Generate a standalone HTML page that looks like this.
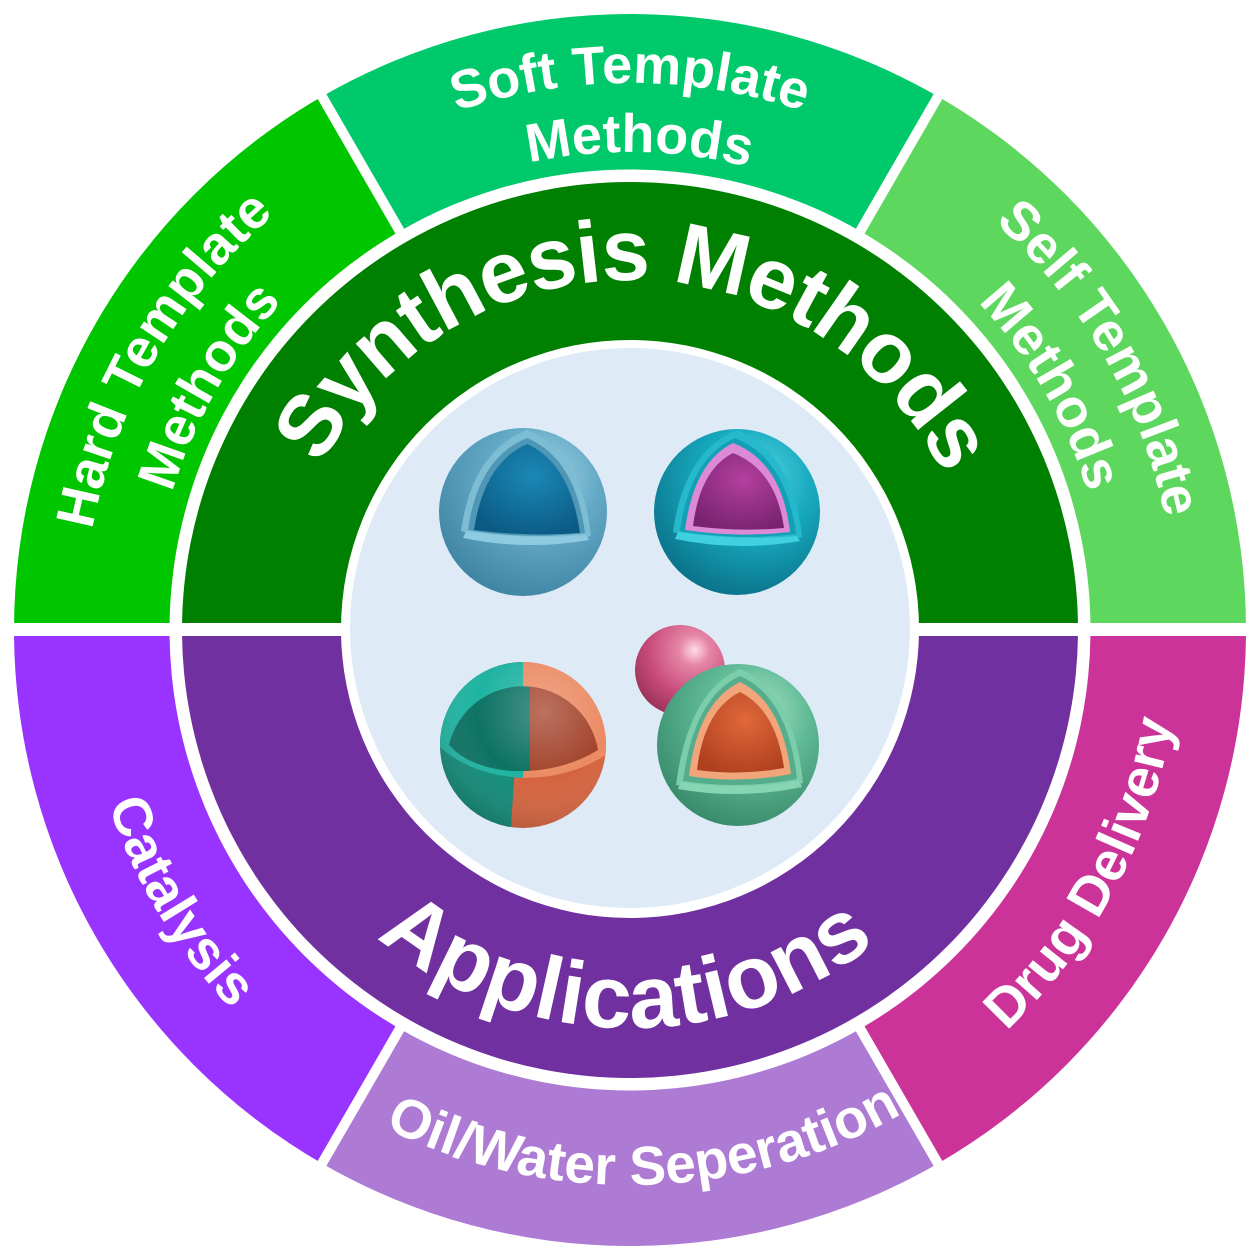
<!DOCTYPE html>
<html>
<head>
<meta charset="utf-8">
<style>
html,body{margin:0;padding:0;background:#ffffff;}
svg{display:block;}
text{font-family:"Liberation Sans",Arial,sans-serif;font-weight:bold;fill:#ffffff;}
</style>
</head>
<body>
<svg width="1260" height="1260" viewBox="0 0 1260 1260" xmlns="http://www.w3.org/2000/svg">
<defs>
  <path id="pSyn" d="M301.11 749.71 A350 350 0 1 1 958.89 749.71"/>
  <path id="pTop1" d="M115.99 817.09 A547 547 0 1 1 1144.01 817.09"/>
  <path id="pTop2" d="M180.83 793.49 A478 478 0 1 1 1079.17 793.49"/>
  <path id="pApp" d="M256.0 493.88 A398 398 0 1 0 1004.0 493.88"/>
  <path id="pBot" d="M113.17 441.89 A550 550 0 1 0 1146.83 441.89"/>
  <path id="pBot2" d="M108.47 440.18 A555 555 0 1 0 1151.53 440.18"/>

  <radialGradient id="g1" cx="0.62" cy="0.3" r="0.75">
    <stop offset="0" stop-color="#a4d4e4"/>
    <stop offset="0.45" stop-color="#63a9c6"/>
    <stop offset="1" stop-color="#3f83a2"/>
  </radialGradient>
  <radialGradient id="g1c" cx="0.55" cy="0.35" r="0.7">
    <stop offset="0" stop-color="#1b88b6"/>
    <stop offset="1" stop-color="#0b5a84"/>
  </radialGradient>
  <radialGradient id="g2" cx="0.62" cy="0.3" r="0.75">
    <stop offset="0" stop-color="#55d6e2"/>
    <stop offset="0.45" stop-color="#17a9be"/>
    <stop offset="1" stop-color="#0a7087"/>
  </radialGradient>
  <radialGradient id="g2c" cx="0.55" cy="0.35" r="0.7">
    <stop offset="0" stop-color="#b3409f"/>
    <stop offset="1" stop-color="#782270"/>
  </radialGradient>
  <radialGradient id="g4" cx="0.62" cy="0.3" r="0.75">
    <stop offset="0" stop-color="#a4e2c6"/>
    <stop offset="0.45" stop-color="#5db894"/>
    <stop offset="1" stop-color="#38896a"/>
  </radialGradient>
  <radialGradient id="g4c" cx="0.55" cy="0.35" r="0.7">
    <stop offset="0" stop-color="#e0683a"/>
    <stop offset="1" stop-color="#b0401f"/>
  </radialGradient>
  <radialGradient id="gp" cx="0.66" cy="0.28" r="0.78">
    <stop offset="0" stop-color="#ffdbe6"/>
    <stop offset="0.22" stop-color="#e585a6"/>
    <stop offset="0.65" stop-color="#c84b7b"/>
    <stop offset="1" stop-color="#9a3259"/>
  </radialGradient>
  <radialGradient id="shade" cx="0.62" cy="0.3" r="0.8">
    <stop offset="0" stop-color="#ffffff" stop-opacity="0.25"/>
    <stop offset="0.5" stop-color="#ffffff" stop-opacity="0"/>
    <stop offset="1" stop-color="#000000" stop-opacity="0.22"/>
  </radialGradient>
  <clipPath id="c3"><circle cx="523" cy="745" r="83"/></clipPath>
  <clipPath id="c3L"><rect x="400" y="640" width="130" height="200"/></clipPath>
  <clipPath id="c3R"><rect x="530" y="640" width="130" height="200"/></clipPath>
</defs>

<!-- outer ring wedges -->
<path d="M630 630 L14 630 A616 616 0 0 1 322 96.53 Z" fill="#00c600"/>
<path d="M630 630 L322 96.53 A616 616 0 0 1 938 96.53 Z" fill="#00c96b"/>
<path d="M630 630 L938 96.53 A616 616 0 0 1 1246 630 Z" fill="#5ed75e"/>
<path d="M630 630 L1246 630 A616 616 0 0 1 938 1163.47 Z" fill="#cc3399"/>
<path d="M630 630 L938 1163.47 A616 616 0 0 1 322 1163.47 Z" fill="#ae7bd4"/>
<path d="M630 630 L322 1163.47 A616 616 0 0 1 14 630 Z" fill="#9933ff"/>

<!-- dividers -->
<g stroke="#ffffff" stroke-width="10">
  <line x1="630" y1="630" x2="310" y2="75.7"/>
  <line x1="630" y1="630" x2="950" y2="75.7"/>
  <line x1="630" y1="630" x2="310" y2="1184.3"/>
  <line x1="630" y1="630" x2="950" y2="1184.3"/>
</g>

<circle cx="630" cy="630" r="460.5" fill="#ffffff"/>

<!-- inner ring halves -->
<path d="M182 630 A448 448 0 0 1 1078 630 Z" fill="#008000"/>
<path d="M182 630 A448 448 0 0 0 1078 630 Z" fill="#7030a0"/>

<!-- horizontal white band -->
<rect x="0" y="623" width="1260" height="13" fill="#ffffff"/>

<!-- center -->
<circle cx="630" cy="629" r="289" fill="#ffffff"/>
<circle cx="630" cy="628" r="280" fill="#deebf7"/>

<!-- Sphere 1 (blue) -->
<circle cx="523" cy="512" r="84" fill="url(#g1)"/>
<path d="M527 430 Q472 452 461 531 Q525 552 591 536 Q582 453 527 430 Z" fill="#7dbdd4"/>
<path d="M527 438 Q478 458 468 530 Q525 540 585 533 Q575 458 527 438 Z" fill="#4f97b6"/>
<path d="M527 444 Q484 463 474 530 Q526 537 580 533 Q570 463 527 444 Z" fill="url(#g1c)"/>
<path d="M466 531 Q526 540 586 535 L589 540 Q526 551 463 538 Z" fill="#8fcbe0"/>

<!-- Sphere 2 (teal/magenta) -->
<circle cx="737" cy="512" r="83" fill="url(#g2)"/>
<path d="M737 430 Q684 452 673 532 Q738 552 802 537 Q793 453 737 430 Z" fill="#25b9cb"/>
<path d="M735 438 Q690 458 680 531 Q738 541 796 534 Q786 458 735 438 Z" fill="#13a0b6"/>
<path d="M733 443 Q694 462 685 530 Q738 538 790 532 Q782 462 733 443 Z" fill="#dc8ad6"/>
<path d="M733 453 Q700 470 693 526 Q738 532 784 528 Q776 470 733 453 Z" fill="url(#g2c)"/>
<path d="M678 532 Q738 541 797 536 L800 541 Q738 552 675 539 Z" fill="#40d0de"/>

<!-- Sphere 3 (bowl teal/orange) -->
<g clip-path="url(#c3)">
  <rect x="430" y="650" width="200" height="190" fill="#d4633f"/>
  <path d="M430 650 L523 650 L510 840 L430 840 Z" fill="#128b7a"/>
  <path d="M430 650 L523 650 L523 778 Q472 775 441 748 L430 748 Z" fill="#1fb3a1"/>
  <path d="M523 650 L630 650 L630 755 L606 755 Q570 778 523 778 Z" fill="#eb8a63"/>
  <g clip-path="url(#c3L)">
    <path d="M449 745 A76 76 0 0 1 598 750 Q560 773 512 771 Q470 768 449 745 Z" fill="#0d7264"/>
  </g>
  <g clip-path="url(#c3R)">
    <path d="M449 745 A76 76 0 0 1 598 750 Q560 773 512 771 Q470 768 449 745 Z" fill="#a3432b"/>
  </g>
  <circle cx="523" cy="745" r="83" fill="url(#shade)"/>
</g>

<!-- Pink ball -->
<circle cx="680" cy="670" r="45" fill="url(#gp)"/>

<!-- Sphere 4 (green/orange) -->
<circle cx="738" cy="745" r="81" fill="url(#g4)"/>
<path d="M740 669 Q688 692 676 785 Q740 800 803 783 Q794 692 740 669 Z" fill="#7ccdac"/>
<path d="M740 676 Q694 697 683 781 Q740 790 797 779 Q788 697 740 676 Z" fill="#55ad8c"/>
<path d="M740 682 Q698 702 689 776 Q740 784 791 774 Q782 702 740 682 Z" fill="#f2a57a"/>
<path d="M740 692 Q704 710 697 770 Q740 776 784 768 Q776 710 740 692 Z" fill="url(#g4c)"/>
<path d="M681 782 Q740 791 799 781 L802 787 Q740 800 678 789 Z" fill="#86d6b4"/>

<!-- Texts: top half -->
<text font-size="87" letter-spacing="-1.5"><textPath href="#pSyn" startOffset="50.36%" text-anchor="middle">Synthesis Methods</textPath></text>

<text font-size="54"><textPath href="#pTop1" startOffset="50%" text-anchor="middle">Soft Template</textPath></text>
<text font-size="54"><textPath href="#pTop2" startOffset="50.5%" text-anchor="middle">Methods</textPath></text>

<text font-size="54"><textPath href="#pTop1" startOffset="22.73%" text-anchor="middle">Hard Template</textPath></text>
<text font-size="54"><textPath href="#pTop2" startOffset="22.73%" text-anchor="middle">Methods</textPath></text>

<text font-size="54"><textPath href="#pTop1" startOffset="77.27%" text-anchor="middle">Self Template</textPath></text>
<text font-size="54"><textPath href="#pTop2" startOffset="77.27%" text-anchor="middle">Methods</textPath></text>

<!-- Texts: bottom half -->
<text font-size="89" letter-spacing="0.5"><textPath href="#pApp" startOffset="49.7%" text-anchor="middle">Applications</textPath></text>

<text font-size="55"><textPath href="#pBot" startOffset="23.2%" text-anchor="middle">Catalysis</textPath></text>
<text font-size="55"><textPath href="#pBot2" startOffset="50.7%" text-anchor="middle">Oil/Water Seperation</textPath></text>
<text font-size="55"><textPath href="#pBot" startOffset="78.1%" text-anchor="middle">Drug Delivery</textPath></text>
</svg>
</body>
</html>
